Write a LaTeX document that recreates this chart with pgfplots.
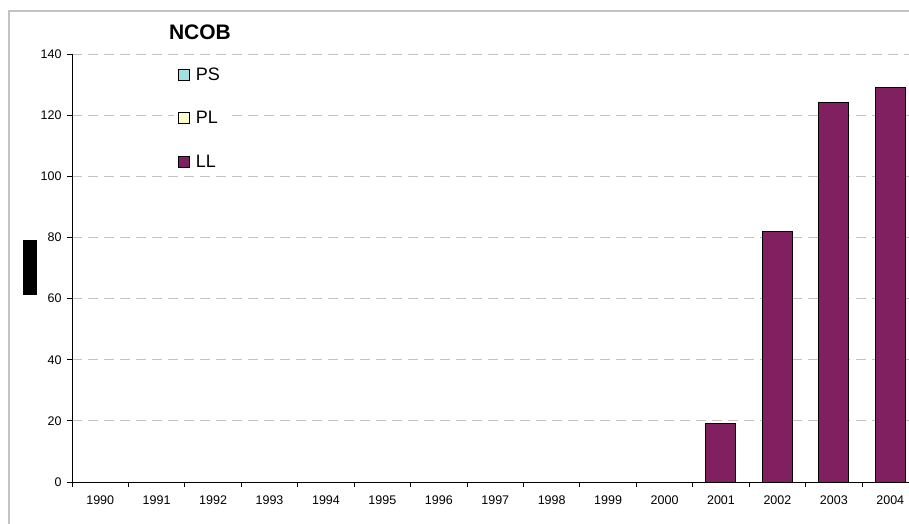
\documentclass[border=0pt]{standalone}
\usepackage{pgfplots}
\pgfplotsset{compat=1.18}
\usepackage{fontspec}
\setmainfont{Liberation Sans}
\definecolor{llc}{RGB}{128,32,96}
\definecolor{psc}{RGB}{160,224,224}
\definecolor{plc}{RGB}{255,255,204}
\definecolor{gridc}{RGB}{195,195,195}
\definecolor{framec}{RGB}{195,195,195}
\begin{document}
\begin{tikzpicture}
\path[use as bounding box] (-72pt,-41pt) rectangle (837pt,482pt);
\draw[framec, line width=1.5pt] (-63pt,-60pt) -- (-63pt,471pt) -- (900pt,471pt);
\fill[black] (-49pt,187pt) rectangle (-35pt,242pt);
\begin{axis}[
  at={(0pt,0pt)}, anchor=south west,
  scale only axis, width=846.5pt, height=428pt,
  xmin=-0.5, xmax=14.5, ymin=0, ymax=140,
  axis lines*=left,
  axis line style={line width=1pt, -},
  ytick={0,20,...,140},
  xtick={0,...,14},
  xticklabels={1990,1991,1992,1993,1994,1995,1996,1997,1998,1999,2000,2001,2002,2003,2004},
  major x tick style={draw=none},
  minor xtick={-0.5,0.5,...,14.5},
  tick align=outside,
  major tick length=5pt, minor tick length=5pt,
  every tick/.style={black, line width=1pt},
  ymajorgrids,
  grid style={gridc, dash pattern=on 10pt off 6pt, line width=0.8pt},
  ticklabel style={font=\fontsize{12.5}{14}\selectfont},
  /pgf/number format/assume math mode=true,
  yticklabel style={xshift=-2pt},
  xticklabel style={yshift=-5pt},
  legend style={at={(0.120,0.983)}, anchor=north west, draw=none, fill=white,
    font=\fontsize{18}{21}\selectfont, row sep=26pt, inner xsep=4pt, inner ysep=4pt,
    /tikz/every odd column/.append style={column sep=4pt}},
  legend cell align=left,
  legend image code/.code={\draw[#1, line width=1pt] (0pt,-5.5pt) rectangle (11pt,5.5pt);},
]
\addlegendimage{fill=psc, draw=black}
\addlegendimage{fill=plc, draw=black}
\addplot[ybar, bar width=30pt, fill=llc, draw=black, line width=1pt]
  coordinates {(11,19) (12,82) (13,124) (14,129)};
\legend{PS,PL,LL}
\end{axis}
\node[font=\fontsize{21}{25}\selectfont\bfseries] at (128pt,450pt) {NCOB};
\end{tikzpicture}
\end{document}
